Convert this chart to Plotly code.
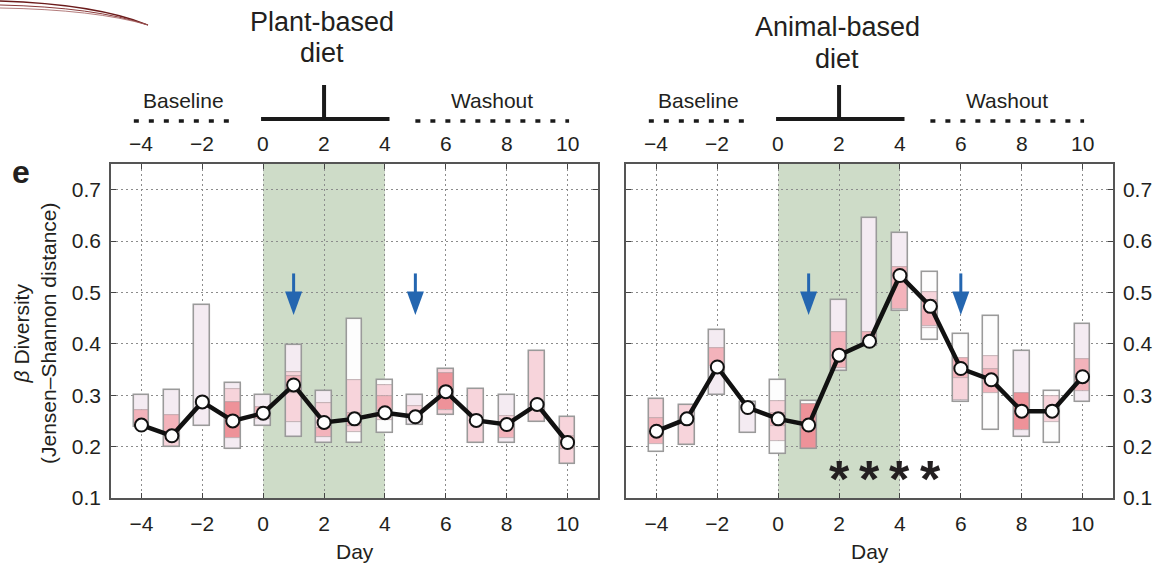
import plotly.graph_objects as go

W, H = 1153, 566

# ---------------- data ----------------
days = list(range(-4, 11))

plant_median = [0.242, 0.221, 0.287, 0.250, 0.265, 0.320, 0.247, 0.254, 0.266,
                0.258, 0.307, 0.251, 0.243, 0.282, 0.208]
animal_median = [0.230, 0.254, 0.355, 0.276, 0.254, 0.242, 0.378, 0.405, 0.533,
                 0.473, 0.352, 0.330, 0.269, 0.269, 0.336]

# shaded percentile bands per day: (day, low, high, shade)
plant_bands = [
    (-4, 0.271, 0.300, "lav"), (-4, 0.238, 0.271, "p"),
    (-3, 0.261, 0.311, "lav"), (-3, 0.221, 0.261, "p"), (-3, 0.200, 0.221, "lp"),
    (-2, 0.240, 0.475, "lav"),
    (-1, 0.312, 0.323, "lav"), (-1, 0.287, 0.312, "lp"), (-1, 0.216, 0.287, "dp"), (-1, 0.196, 0.216, "lav"),
    (0, 0.278, 0.300, "lav"), (0, 0.253, 0.278, "p"), (0, 0.240, 0.253, "lav"),
    (1, 0.345, 0.398, "lav"), (1, 0.337, 0.345, "lp"), (1, 0.305, 0.337, "p"), (1, 0.247, 0.305, "lp"), (1, 0.219, 0.247, "lav"),
    (2, 0.284, 0.308, "lav"), (2, 0.237, 0.284, "lp"), (2, 0.218, 0.237, "p"), (2, 0.208, 0.218, "lav"),
    (3, 0.329, 0.448, "w"), (3, 0.266, 0.329, "lp"), (3, 0.240, 0.266, "p"), (3, 0.228, 0.240, "lp"), (3, 0.208, 0.228, "w"),
    (4, 0.319, 0.330, "w"), (4, 0.298, 0.319, "lp"), (4, 0.269, 0.298, "p"), (4, 0.252, 0.269, "lp"), (4, 0.226, 0.252, "w"),
    (5, 0.279, 0.300, "lav"), (5, 0.259, 0.279, "lp"), (5, 0.243, 0.259, "lav"),
    (6, 0.343, 0.351, "lp"), (6, 0.272, 0.343, "dp"), (6, 0.261, 0.272, "lp"),
    (7, 0.208, 0.313, "lp"),
    (8, 0.259, 0.300, "lav"), (8, 0.240, 0.259, "lp"), (8, 0.217, 0.240, "p"), (8, 0.208, 0.217, "lav"),
    (9, 0.248, 0.387, "lp"),
    (10, 0.221, 0.258, "lp"), (10, 0.195, 0.221, "p"), (10, 0.167, 0.195, "lp"),
]
animal_bands = [
    (-4, 0.256, 0.293, "lp"), (-4, 0.205, 0.256, "p"), (-4, 0.190, 0.205, "w"),
    (-3, 0.203, 0.281, "lp"),
    (-2, 0.392, 0.427, "lav"), (-2, 0.356, 0.392, "p"), (-2, 0.300, 0.356, "lav"),
    (-1, 0.226, 0.287, "lav"),
    (0, 0.289, 0.329, "w"), (0, 0.266, 0.289, "lp"), (0, 0.240, 0.266, "p"), (0, 0.211, 0.240, "lp"), (0, 0.185, 0.211, "w"),
    (1, 0.283, 0.289, "w"), (1, 0.195, 0.283, "dp"),
    (2, 0.424, 0.486, "lav"), (2, 0.353, 0.424, "p"), (2, 0.347, 0.353, "lav"),
    (3, 0.424, 0.644, "lav"), (3, 0.395, 0.424, "p"),
    (4, 0.549, 0.615, "lav"), (4, 0.468, 0.549, "p"), (4, 0.463, 0.468, "lav"),
    (5, 0.500, 0.539, "w"), (5, 0.485, 0.500, "lp"), (5, 0.435, 0.485, "p"), (5, 0.431, 0.435, "lav"), (5, 0.408, 0.431, "w"),
    (6, 0.373, 0.420, "w"), (6, 0.334, 0.373, "p"), (6, 0.290, 0.334, "lp"), (6, 0.287, 0.290, "lav"),
    (7, 0.376, 0.454, "w"), (7, 0.352, 0.376, "lp"), (7, 0.305, 0.352, "p"), (7, 0.232, 0.305, "w"),
    (8, 0.305, 0.387, "lav"), (8, 0.232, 0.305, "dp"), (8, 0.219, 0.232, "lav"),
    (9, 0.298, 0.308, "w"), (9, 0.247, 0.298, "lp"), (9, 0.208, 0.247, "w"),
    (10, 0.370, 0.439, "lav"), (10, 0.308, 0.370, "p"), (10, 0.287, 0.308, "lav"),
]

plant_arrow_days = [1, 5]
animal_arrow_days = [1, 6]
arrow_top, arrow_tip = 0.537, 0.456
sig_days = [2, 3, 4, 5]
sig_level = 0.155

diet_start, diet_end = 0, 4
baseline_span = (-4.25, -1.0)
washout_span = (5.0, 10.05)
top_ticks = [-4, -2, 0, 2, 4, 6, 8, 10]

shade_colors = {"w": "#fdfdfd", "lav": "#f4ebf2", "lp": "#f7d4db",
                "p": "#f3b3bb", "dp": "#ee9299"}

FONT = "Liberation Sans, Arial, sans-serif"
TXT = "#231f20"


def px(x, y):
    return x / W, 1 - y / H


def ann(**kw):
    kw.setdefault("showarrow", False)
    kw.setdefault("xanchor", "center")
    kw.setdefault("yanchor", "middle")
    return kw


fig = go.Figure()

panels = [
    ("x", "y", plant_bands, plant_median, plant_arrow_days, ("Plant-based", "diet"), 322, (22, 53), False),
    ("x2", "y2", animal_bands, animal_median, animal_arrow_days, ("Animal-based", "diet"), 837, (27, 59), True),
]

shapes = []
annotations = []
BOXW = 0.52

for xa, ya, bands, med, arrows, title, tx, ty, sig in panels:
    # shaded percentile bands
    fig.add_trace(go.Bar(
        x=[b[0] for b in bands], base=[b[1] for b in bands],
        y=[b[2] - b[1] for b in bands], width=BOXW,
        marker=dict(color=[shade_colors[b[3]] for b in bands],
                    line=dict(color="rgba(170,150,155,0.7)", width=0.7)),
        xaxis=xa, yaxis=ya, showlegend=False, hoverinfo="skip"))
    # outer box outline
    lo = {}
    hi = {}
    for d, a, b, _ in bands:
        lo[d] = min(lo.get(d, 9), a)
        hi[d] = max(hi.get(d, -9), b)
    fig.add_trace(go.Bar(
        x=days, base=[lo[d] for d in days], y=[hi[d] - lo[d] for d in days],
        width=BOXW, marker=dict(color="rgba(0,0,0,0)", line=dict(color="#9a9a9a", width=1.5)),
        xaxis=xa, yaxis=ya, showlegend=False, hoverinfo="skip"))
    # median line
    fig.add_trace(go.Scatter(
        x=days, y=med, mode="lines+markers",
        line=dict(color="#111111", width=4.5),
        marker=dict(color="white", size=13, line=dict(color="#111111", width=2)),
        xaxis=xa, yaxis=ya, showlegend=False, hoverinfo="skip"))

    xr = xa
    yr = ya
    # diet period shading
    shapes.append(dict(type="rect", xref=xr, yref=yr + " domain", x0=diet_start, x1=diet_end,
                       y0=0, y1=1, fillcolor="#cedcc8", line=dict(width=0), layer="below"))
    # arrows
    for d in arrows:
        hw = 0.28
        head_base = arrow_tip + 0.046
        shapes.append(dict(type="line", xref=xr, yref=yr, x0=d, x1=d, y0=arrow_top, y1=head_base - 0.004,
                           line=dict(color="#2466b0", width=3)))
        shapes.append(dict(type="path", xref=xr, yref=yr,
                           path=f"M {d - hw},{head_base} L {d + hw},{head_base} L {d},{arrow_tip} Z",
                           fillcolor="#2466b0", line=dict(width=0)))
    # significance stars
    if sig:
        for d in sig_days:
            annotations.append(ann(x=d, y=sig_level, xref=xr, yref=yr, text="<b>*</b>",
                                   font=dict(size=52, color=TXT, family=FONT), yshift=-9))
    # top timeline
    y_line = px(0, 119)[1]
    y_dot = px(0, 121)[1]
    shapes.append(dict(type="line", xref=xr, yref="paper", x0=diet_start - 0.07, x1=diet_end + 0.15,
                       y0=y_line, y1=y_line, line=dict(color="#1a1a1a", width=4)))
    mid = (diet_start + diet_end) / 2
    shapes.append(dict(type="line", xref=xr, yref="paper", x0=mid, x1=mid,
                       y0=y_line, y1=px(0, 85)[1], line=dict(color="#1a1a1a", width=4)))
    for (a, b) in (baseline_span, washout_span):
        shapes.append(dict(type="line", xref=xr, yref="paper", x0=a, x1=b, y0=y_dot, y1=y_dot,
                           line=dict(color="#1a1a1a", width=3.5, dash="5px,10px")))
    annotations.append(ann(x=sum(baseline_span) / 2, y=px(0, 100)[1], xref=xr, yref="paper",
                           text="Baseline", font=dict(size=21, color=TXT, family=FONT)))
    annotations.append(ann(x=sum(washout_span) / 2, y=px(0, 100)[1], xref=xr, yref="paper",
                           text="Washout", font=dict(size=21, color=TXT, family=FONT)))
    for t in top_ticks:
        annotations.append(ann(x=t, y=px(0, 143)[1], xref=xr, yref="paper",
                               text=("\u2212" + str(-t)) if t < 0 else str(t),
                               font=dict(size=21, color=TXT, family=FONT)))
    for line_txt, ly in zip(title, ty):
        annotations.append(ann(x=tx / W, y=1 - ly / H, xref="paper", yref="paper",
                               text=line_txt, font=dict(size=27, color=TXT, family=FONT)))

# Day labels (anchored at the figure's bottom edge so they do not push the margins)
for xc in (355, 870):
    annotations.append(ann(x=xc / W, y=0, xref="paper", yref="paper", yanchor="bottom", text="Day",
                           font=dict(size=21, color=TXT, family=FONT), yshift=1))
# y title
annotations.append(ann(x=35 / W, y=1 - 333 / H, xref="paper", yref="paper", textangle=-90,
                       text="<i>\u03b2</i> Diversity<br>(Jensen\u2013Shannon distance)",
                       font=dict(size=21, color=TXT, family=FONT)))
# panel letter
annotations.append(ann(x=21 / W, y=1 - 172 / H, xref="paper", yref="paper", text="<b>e</b>",
                       font=dict(size=32, color=TXT, family=FONT)))


# decorative swoosh (page ornament)
def ppath(pts):
    s = ""
    for cmd, coords in pts:
        s += cmd + " " + " ".join(f"{x / W:.5f},{1 - y / H:.5f}" for x, y in coords) + " "
    return s.strip()


for off, col, wd in ((0, "#6b1b1b", 1.3), (4, "#8a3a3a", 1.0), (7, "#a05a5a", 0.8)):
    shapes.append(dict(type="path", xref="paper", yref="paper",
                       path=ppath([("M", [(0, 1 + off)]), ("Q", [(95, 4 + off * 0.8), (148, 25)])]),
                       line=dict(color=col, width=wd)))

axis_common = dict(range=[-5, 11], tickvals=[-4, -2, 0, 2, 4, 6, 8, 10], ticks="inside", ticklen=5,
                   tickcolor="#444", showline=True, linecolor="#555", linewidth=1.5, mirror="allticks",
                   showgrid=True, gridcolor="#8c8c8c", griddash="2px,3px", gridwidth=1.2, zeroline=False,
                   ticklabelstandoff=6, automargin=False,
                   tickfont=dict(size=21, color=TXT, family=FONT))
yaxis_common = dict(range=[0.1, 0.75], tickvals=[0.1, 0.2, 0.3, 0.4, 0.5, 0.6, 0.7], tickformat=".1f",
                    ticks="inside", ticklen=5, tickcolor="#444", showline=True, linecolor="#555",
                    linewidth=1.5, mirror="allticks", showgrid=True, gridcolor="#8c8c8c",
                    griddash="2px,3px", ticklabelstandoff=4, automargin=False,
                    gridwidth=1.2, zeroline=False, tickfont=dict(size=21, color=TXT, family=FONT))

y_dom = [1 - 498 / H, 1 - 164 / H]
fig.update_layout(
    width=W, height=H, autosize=False,
    margin=dict(l=0, r=0, t=0, b=0, pad=0, autoexpand=False),
    paper_bgcolor="white", plot_bgcolor="white",
    barmode="overlay", bargap=0,
    xaxis=dict(domain=[111 / W, 598 / W], anchor="y", **axis_common),
    yaxis=dict(domain=y_dom, anchor="x", side="left", **yaxis_common),
    xaxis2=dict(domain=[626 / W, 1113 / W], anchor="y2", **axis_common),
    yaxis2=dict(domain=y_dom, anchor="x2", side="right", **yaxis_common),
    shapes=shapes, annotations=annotations,
    font=dict(family=FONT, color=TXT),
)

css_fix = (
    "var d=document.documentElement,b=document.body;"
    "d.style.margin='0';d.style.padding='0';d.style.overflow='hidden';"
    "b.style.margin='0';b.style.padding='0';b.style.overflow='hidden';"
)
fig.write_html("out.html", config={"displayModeBar": False}, post_script=css_fix)
